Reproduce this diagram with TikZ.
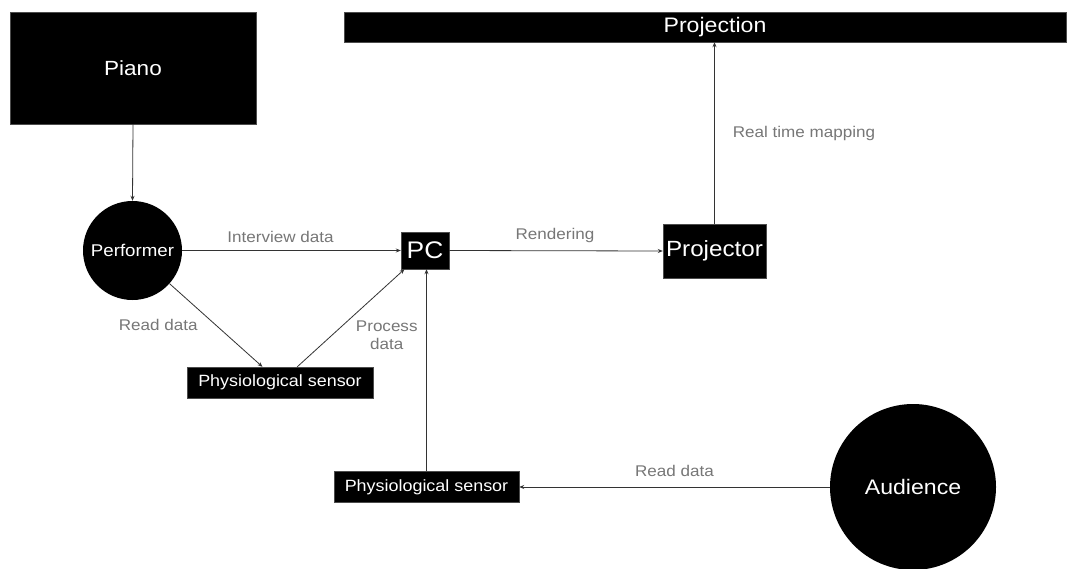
\documentclass[tikz,border=0pt]{standalone}
\usepackage{fontspec}
\setmainfont[FakeStretch=1.1]{Liberation Sans}
\usetikzlibrary{arrows.meta}
\definecolor{lblgray}{HTML}{777777}
\definecolor{linegray}{HTML}{333333}
\tikzset{
  blackbox/.style={fill=black, draw=black!70, text=white, inner sep=0pt, rectangle},
  blackcirc/.style={fill=black, text=white, inner sep=0pt, circle},
  conn/.style={draw=linegray, line width=0.8pt, -{Stealth[length=5pt,width=4pt]}},
  lbl/.style={text=lblgray, font=\fontsize{15.5}{18}\selectfont, inner sep=0pt}
}
\begin{document}
\begin{tikzpicture}[x=1pt,y=-1pt]
\useasboundingbox (0,0) rectangle (1076,568);
\fill[white] (0,0) rectangle (1076,568);
% nodes
\node[blackbox, minimum width=246pt, minimum height=112pt, font=\fontsize{20.5}{24}\selectfont] (piano) at (133,68) {Piano};
\node[blackbox, minimum width=722pt, minimum height=30pt, font=\fontsize{21}{24}\selectfont] (projection) at (705,27) {\hspace*{20pt}Projection};
\node[blackcirc, minimum size=99pt, font=\fontsize{17}{20}\selectfont] (perf) at (132.5,250.5) {Performer};
\node[blackbox, minimum width=48pt, minimum height=37pt, font=\fontsize{24}{27}\selectfont] (pc) at (425,250.5) {PC};
\node[blackbox, minimum width=103pt, minimum height=54pt, font=\fontsize{22}{25}\selectfont] (proj) at (714.5,251) {Projector};
\node[blackbox, minimum width=186pt, minimum height=31pt, font=\fontsize{16.3}{19}\selectfont] (sens1) at (280,382.5) {Physiological sensor};
\node[blackbox, minimum width=185pt, minimum height=31pt, font=\fontsize{16.3}{19}\selectfont] (sens2) at (426.5,487) {Physiological sensor};
\node[blackcirc, minimum size=166pt, font=\fontsize{21}{24}\selectfont] (aud) at (913,487) {Audience};
% connectors
\draw[conn] (piano.south) -- (perf.north);
\draw[conn] (perf.east) -- node[lbl, above=7pt, pos=0.45] (l1) {Interview data} (pc.west);
\draw[conn] (perf) -- node[lbl, left=18pt, pos=0.5] (l2) {Read data} (sens1);
\draw[conn] (sens1) -- node[lbl, right=24pt, pos=0.32, align=center] (l3) {Process\\data} (pc);
\draw[conn] (sens2.north) -- (sens2.north |- pc.south);
\draw[conn] (pc.east) -- node[lbl, above=8pt, pos=0.495] (l4) {Rendering} (proj.west);
\draw[conn] (proj.north) -- node[lbl, right=18pt, pos=0.5] (l5) {Real time mapping} (proj.north |- projection.south);
\draw[conn] (aud.west) -- node[lbl, above=10pt, pos=0.5] (l6) {Read data} (sens2.east);
\end{tikzpicture}
\end{document}
